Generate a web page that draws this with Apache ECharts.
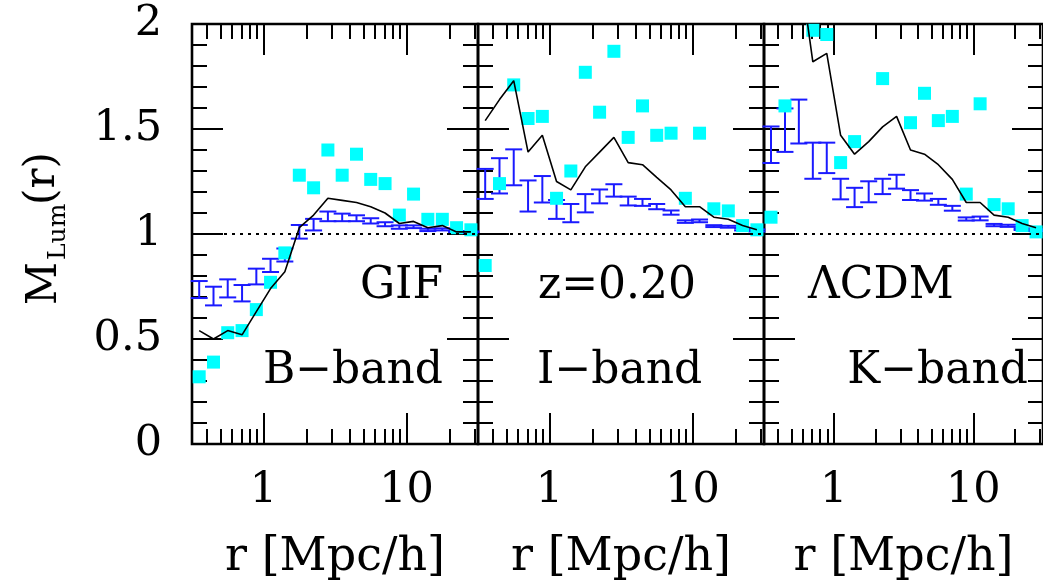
<!DOCTYPE html>
<html>
<head>
<meta charset="utf-8">
<script src="https://cdn.jsdelivr.net/npm/echarts@6/dist/echarts.min.js"></script>
<style>
html, body { margin: 0; padding: 0; background: #fff; }
#main { width: 1043px; height: 586px; }
</style>
</head>
<body>
<div id="main"></div>
<script>
// radial bins, Mpc/h
var rBins = [0.355, 0.447, 0.562, 0.708, 0.891, 1.12, 1.41, 1.78, 2.24, 2.82,
             3.55, 4.47, 5.62, 7.08, 8.91, 11.2, 14.1, 17.8, 22.4, 28.2];

// GIF, B-band
var bSquares = [0.32, 0.39, 0.53, 0.54, 0.64, 0.77, 0.91, 1.28, 1.22, 1.40,
                1.28, 1.38, 1.26, 1.24, 1.09, 1.19, 1.07, 1.07, 1.03, 1.02];
var bLine = [0.54, 0.50, 0.54, 0.52, 0.63, 0.74, 0.82, 1.03, 1.09, 1.17,
             1.16, 1.15, 1.13, 1.10, 1.05, 1.06, 1.03, 1.04, 1.01, 1.01];
var bLow = [0.695, 0.660, 0.698, 0.679, 0.760, 0.819, 0.869, 0.978, 1.017, 1.061,
            1.061, 1.061, 1.050, 1.037, 1.025, 1.028, 1.014, 1.017, 1.006, 1.005];
var bHigh = [0.776, 0.749, 0.784, 0.757, 0.835, 0.882, 0.931, 1.043, 1.072, 1.107,
             1.097, 1.089, 1.075, 1.056, 1.041, 1.041, 1.025, 1.027, 1.014, 1.012];

// z=0.20, I-band
var iSquares = [0.85, 1.24, 1.71, 1.55, 1.56, 1.17, 1.30, 1.77, 1.58, 1.87,
                1.46, 1.61, 1.47, 1.48, 1.17, 1.48, 1.12, 1.11, 1.04, 1.02];
var iLine = [1.54, 1.64, 1.73, 1.39, 1.47, 1.25, 1.21, 1.32, 1.39, 1.46,
             1.34, 1.33, 1.27, 1.21, 1.13, 1.13, 1.08, 1.07, 1.04, 1.02];
var iLow = [1.167, 1.193, 1.232, 1.107, 1.150, 1.072, 1.056, 1.103, 1.146, 1.178,
            1.136, 1.134, 1.118, 1.092, 1.053, 1.056, 1.033, 1.030, 1.017, 1.012];
var iHigh = [1.310, 1.361, 1.403, 1.255, 1.276, 1.162, 1.143, 1.190, 1.212, 1.237,
             1.178, 1.167, 1.143, 1.112, 1.065, 1.069, 1.042, 1.039, 1.027, 1.022];

// LCDM, K-band (values above 2 run off the top of the panel)
var kSquares = [1.08, 1.61, 2.20, 1.97, 1.95, 1.34, 1.44, 2.15, 1.74, 2.10,
                1.53, 1.67, 1.54, 1.56, 1.19, 1.62, 1.14, 1.12, 1.04, 1.01];
var kLine = [2.40, 2.50, 2.30, 1.82, 1.86, 1.47, 1.38, 1.44, 1.51, 1.56,
             1.40, 1.38, 1.33, 1.26, 1.15, 1.15, 1.09, 1.08, 1.05, 1.03];
var kLow = [1.338, 1.391, 1.431, 1.263, 1.290, 1.165, 1.128, 1.151, 1.190, 1.216,
            1.162, 1.159, 1.139, 1.111, 1.064, 1.065, 1.037, 1.034, 1.019, 1.014];
var kHigh = [1.512, 1.598, 1.640, 1.435, 1.435, 1.263, 1.220, 1.251, 1.263, 1.282,
             1.209, 1.193, 1.167, 1.134, 1.079, 1.083, 1.048, 1.044, 1.027, 1.022];

var majorR = [1, 10];
var minorR = [0.4, 0.5, 0.6, 0.7, 0.8, 0.9, 2, 3, 4, 5, 6, 7, 8, 9, 20, 30];
var yTicks = [0, 0.5, 1, 1.5, 2];
var xTitle = 'r [Mpc/h]';
var panelTexts = [['GIF', 'B\u2212band'], ['z=0.20', 'I\u2212band'], ['\u039BCDM', 'K\u2212band']];

var panels = [
  { squares: bSquares, line: bLine, low: bLow, high: bHigh },
  { squares: iSquares, line: iLine, low: iLow, high: iHigh },
  { squares: kSquares, line: kLine, low: kLow, high: kHigh }
];

var FONT = '"DejaVu Serif", serif';
var BLUE = '#1a1aff';
var CYAN = '#00ffff';
var panelLeft = [192, 478, 764];
var panelWidth = 286;

var grids = [], xAxes = [], yAxes = [], series = [];

function logAxis(g, pos, ticks, len, withLabels) {
  var ax = {
    type: 'log', logBase: 10, gridIndex: g, position: pos,
    min: 0.3162, max: 31.62,
    axisLine: { show: false, onZero: false },
    axisTick: { show: true, inside: true, length: len, customValues: ticks,
                lineStyle: { color: '#000', width: 2 } },
    axisLabel: { show: false },
    splitLine: { show: false },
    minorTick: { show: false }
  };
  if (withLabels) {
    ax.axisLabel = { show: true, customValues: majorR, margin: 25, color: '#000',
                     fontFamily: FONT, fontSize: 43 };
    ax.name = xTitle;
    ax.nameLocation = 'middle';
    ax.nameGap = 91;
    ax.nameTextStyle = { color: '#000', fontFamily: FONT, fontSize: 46 };
  }
  return ax;
}

function linAxis(g, pos, withLabels) {
  return {
    type: 'value', gridIndex: g, position: pos, min: 0, max: 2, interval: 0.5,
    axisLine: { show: false, onZero: false },
    axisTick: { show: true, inside: true, length: 31, lineStyle: { color: '#000', width: 2 } },
    minorTick: { show: true, splitNumber: 5, length: 15, lineStyle: { color: '#000', width: 2 } },
    axisLabel: { show: withLabels, margin: 30, color: '#000', fontFamily: FONT, fontSize: 43,
                 formatter: function (v) { return yTicks.indexOf(v) >= 0 ? String(v) : ''; } },
    splitLine: { show: false }
  };
}

panels.forEach(function (p, g) {
  grids.push({ left: panelLeft[g], top: 24, width: panelWidth, height: 428,
               show: true, borderColor: '#000', borderWidth: 2.6, backgroundColor: 'transparent' });
  var xi = xAxes.length;
  xAxes.push(logAxis(g, 'bottom', majorR, 31, true));
  xAxes.push(logAxis(g, 'bottom', minorR, 15, false));
  xAxes.push(logAxis(g, 'top', majorR, 31, false));
  xAxes.push(logAxis(g, 'top', minorR, 15, false));
  var yi = yAxes.length;
  yAxes.push(linAxis(g, 'left', g === 0));
  yAxes.push(linAxis(g, 'right', false));

  // error bars
  series.push({
    type: 'custom', xAxisIndex: xi, yAxisIndex: yi, silent: true, z: 2,
    encode: { x: 0, y: [1, 2] },
    data: rBins.map(function (r, k) { return [r, p.low[k], p.high[k]]; }),
    renderItem: function (params, api) {
      var x = api.value(0);
      var lo = api.coord([x, api.value(1)]);
      var hi = api.coord([x, api.value(2)]);
      var hw = 8.5;
      var st = { stroke: BLUE, lineWidth: 2 };
      return { type: 'group', children: [
        { type: 'line', shape: { x1: lo[0], y1: lo[1], x2: hi[0], y2: hi[1] }, style: st },
        { type: 'line', shape: { x1: lo[0] - hw, y1: lo[1], x2: lo[0] + hw, y2: lo[1] }, style: st },
        { type: 'line', shape: { x1: hi[0] - hw, y1: hi[1], x2: hi[0] + hw, y2: hi[1] }, style: st }
      ] };
    }
  });
  // cyan squares
  series.push({
    type: 'scatter', xAxisIndex: xi, yAxisIndex: yi, silent: true, z: 3, clip: true,
    symbol: 'rect', symbolSize: 13,
    itemStyle: { color: CYAN, opacity: 1 },
    data: rBins.map(function (r, k) { return [r, p.squares[k]]; })
  });
  // black line + dotted unity line
  series.push({
    type: 'line', xAxisIndex: xi, yAxisIndex: yi, silent: true, z: 4, clip: true,
    showSymbol: false, symbol: 'none',
    lineStyle: { color: '#000', width: 1.6 },
    data: rBins.map(function (r, k) { return [r, p.line[k]]; }),
    markLine: { silent: true, symbol: 'none', label: { show: false },
                lineStyle: { color: '#000', width: 2, type: [3, 5] },
                data: [{ yAxis: 1 }] }
  });
});

var txt = function (text, x, y, align) {
  return { type: 'text', x: x, y: y, silent: true, z: 10,
           style: { text: text, fill: '#000', font: '44px ' + FONT, align: align, verticalAlign: 'middle' } };
};

var graphics = [
  txt(panelTexts[0][0], 443, 287, 'right'),
  txt(panelTexts[0][1], 443, 372, 'right'),
  txt(panelTexts[1][0], 538, 287, 'left'),
  txt(panelTexts[1][1], 537, 372, 'left'),
  txt(panelTexts[2][0], 808, 287, 'left'),
  txt(panelTexts[2][1], 1028, 372, 'right'),
  { type: 'group', x: 45, y: 305, rotation: Math.PI / 2, silent: true, children: [
    { type: 'text', x: 0, y: 0, style: { text: 'M', fill: '#000', font: '42px ' + FONT, align: 'left', verticalAlign: 'middle' } },
    { type: 'text', x: 45, y: 13, style: { text: 'Lum', fill: '#000', font: '25px ' + FONT, align: 'left', verticalAlign: 'middle' } },
    { type: 'text', x: 100, y: -2, style: { text: '(r)', fill: '#000', font: '42px ' + FONT, align: 'left', verticalAlign: 'middle' } }
  ] }
];

var chart = echarts.init(document.getElementById('main'), null, { renderer: 'canvas' });
chart.setOption({
  backgroundColor: '#fff',
  animation: false,
  grid: grids,
  xAxis: xAxes,
  yAxis: yAxes,
  series: series,
  graphic: graphics
});
</script>
</body>
</html>
